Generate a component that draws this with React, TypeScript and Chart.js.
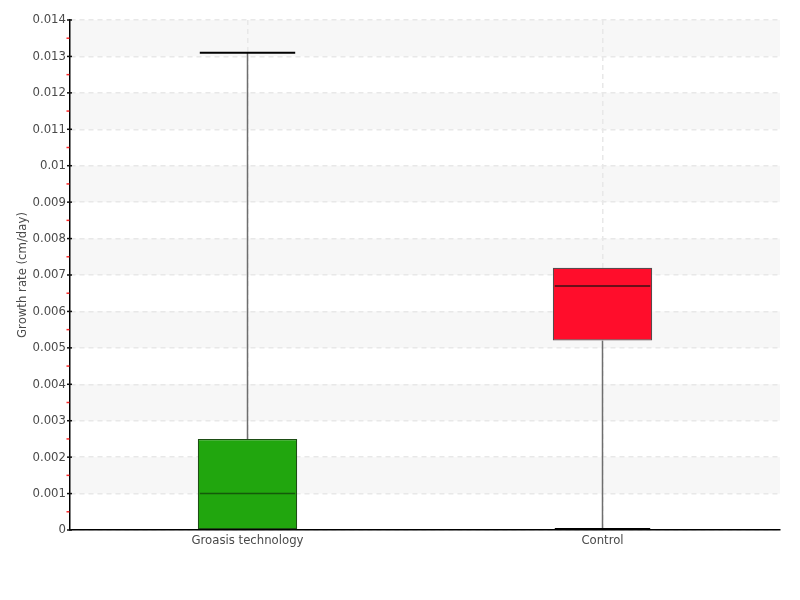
import React, { useEffect, useRef } from "react";
import { Chart, registerables } from "chart.js";

Chart.register(...registerables);

const categories = ["Groasis technology", "Control"];
const mins = [0, 0.00003];
const q1s = [0, 0.0052];
const medians = [0.001, 0.0067];
const q3s = [0.0025, 0.0072];
const maxs = [0.0131, 0.0072];
const boxColors = ["#21a60e", "#ff0d2b"];
const boxBorders = ["#1d4d14", "#5a4a4c"];
const medianColors = ["#145a0a", "#3a1015"];
const yTitle = "Growth rate (cm/day)";
const yMin = 0;
const yMax = 0.014;
const yStep = 0.001;

const FONT = "'Liberation Sans Narrow', 'DejaVu Sans Condensed', 'Noto Sans', sans-serif";

const boxPlugin = {
  id: "boxExtras",
  beforeDraw(chart: any) {
    const { ctx, chartArea } = chart;
    const y = chart.scales.y;
    ctx.save();
    ctx.fillStyle = "#f7f7f7";
    for (let v = yMin; v < yMax - 1e-9; v += yStep) {
      const idx = Math.round((v - yMin) / yStep);
      if (idx % 2 === 1) {
        const top = y.getPixelForValue(v + yStep);
        const bot = y.getPixelForValue(v);
        ctx.fillRect(chartArea.left, top, chartArea.right - chartArea.left, bot - top);
      }
    }
    ctx.restore();
  },
  afterDatasetsDraw(chart: any) {
    const { ctx } = chart;
    const x = chart.scales.x;
    const y = chart.scales.y;
    const meta = chart.getDatasetMeta(0);
    ctx.save();
    categories.forEach((_, i) => {
      const bar = meta.data[i];
      const cx = x.getPixelForValue(i);
      const half = bar.width / 2;
      ctx.strokeStyle = "#6e6e6e";
      ctx.lineWidth = 1.5;
      ctx.beginPath();
      ctx.moveTo(cx, y.getPixelForValue(q3s[i]));
      ctx.lineTo(cx, y.getPixelForValue(maxs[i]));
      ctx.moveTo(cx, y.getPixelForValue(q1s[i]));
      ctx.lineTo(cx, y.getPixelForValue(mins[i]));
      ctx.stroke();
      ctx.strokeStyle = "#000";
      ctx.lineWidth = 2;
      ctx.beginPath();
      const capHalf = half - 2;
      if (maxs[i] > q3s[i]) {
        ctx.moveTo(cx - capHalf, y.getPixelForValue(maxs[i]));
        ctx.lineTo(cx + capHalf, y.getPixelForValue(maxs[i]));
      }
      if (mins[i] < q1s[i]) {
        ctx.moveTo(cx - capHalf, y.getPixelForValue(mins[i]));
        ctx.lineTo(cx + capHalf, y.getPixelForValue(mins[i]));
      }
      ctx.stroke();
      ctx.strokeStyle = medianColors[i];
      ctx.lineWidth = 1.5;
      ctx.beginPath();
      ctx.moveTo(cx - half + 2, y.getPixelForValue(medians[i]));
      ctx.lineTo(cx + half - 2, y.getPixelForValue(medians[i]));
      ctx.stroke();
    });
    ctx.restore();
  },
  afterDraw(chart: any) {
    const { ctx, chartArea } = chart;
    const y = chart.scales.y;
    const ax = chartArea.left;
    const n = Math.round((yMax - yMin) / yStep);
    ctx.save();
    for (let k = 0; k <= n; k++) {
      const v = yMin + k * yStep;
      const py = y.getPixelForValue(v);
      ctx.strokeStyle = "#111";
      ctx.lineWidth = 1.5;
      ctx.beginPath();
      ctx.moveTo(ax - 3, py);
      ctx.lineTo(ax + 2, py);
      ctx.stroke();
      if (k < n) {
        const pm = y.getPixelForValue(v + yStep / 2);
        ctx.strokeStyle = "#ff2a2a";
        ctx.lineWidth = 1.5;
        ctx.beginPath();
        ctx.moveTo(ax - 3.5, pm);
        ctx.lineTo(ax - 0.6, pm);
        ctx.stroke();
      }
    }
    ctx.restore();
  },
};

export default function App() {
  const ref = useRef<HTMLCanvasElement>(null);
  useEffect(() => {
    if (!ref.current) return;
    const chart = new Chart(ref.current, {
      type: "bar",
      data: {
        labels: categories,
        datasets: [
          {
            label: "box",
            data: categories.map((_, i) => [q1s[i], q3s[i]]) as any,
            backgroundColor: boxColors,
            borderColor: boxBorders,
            borderWidth: 1.2,
            borderSkipped: false,
            categoryPercentage: 1,
            barPercentage: 0.28,
          },
        ],
      },
      options: {
        animation: false,
        responsive: false,
        maintainAspectRatio: false,
        layout: { padding: { top: 20, right: 20, left: 0, bottom: 0 } },
        plugins: {
          legend: { display: false },
          tooltip: { enabled: false },
        },
        scales: {
          x: {
            grid: {
              display: true,
              offset: false,
              drawTicks: false,
              color: "#e8e8e8",
              lineWidth: 1.5,
            },
            border: { display: true, color: "#000", width: 1.5, dash: [5, 4] },
            ticks: {
              padding: 3,
              color: "#4a4a4a",
              font: { family: FONT, size: 13 },
            },
            afterFit: (s: any) => {
              s.height = 70;
            },
          },
          y: {
            min: yMin,
            max: yMax,
            ticks: {
              stepSize: yStep,
              padding: 4,
              color: "#4a4a4a",
              font: { family: FONT, size: 13 },
              callback: (v: any) => String(parseFloat(Number(v).toFixed(4))),
            },
            grid: {
              display: true,
              drawTicks: false,
              color: "#e8e8e8",
              lineWidth: 1.5,
            },
            border: { display: true, color: "#000", width: 1.5, dash: [5, 4] },
            title: {
              display: true,
              text: yTitle,
              color: "#4a4a4a",
              font: { family: FONT, size: 13 },
              padding: { top: 15, bottom: 0 },
            },
            afterFit: (s: any) => {
              s.width = 70;
            },
          },
        },
      },
      plugins: [boxPlugin],
    });
    return () => chart.destroy();
  }, []);
  return (
    <div style={{ position: "fixed", left: 0, top: 0, width: 800, height: 600, background: "#fff" }}>
      <canvas ref={ref} width={800} height={600} style={{ width: 800, height: 600 }} />
    </div>
  );
}
